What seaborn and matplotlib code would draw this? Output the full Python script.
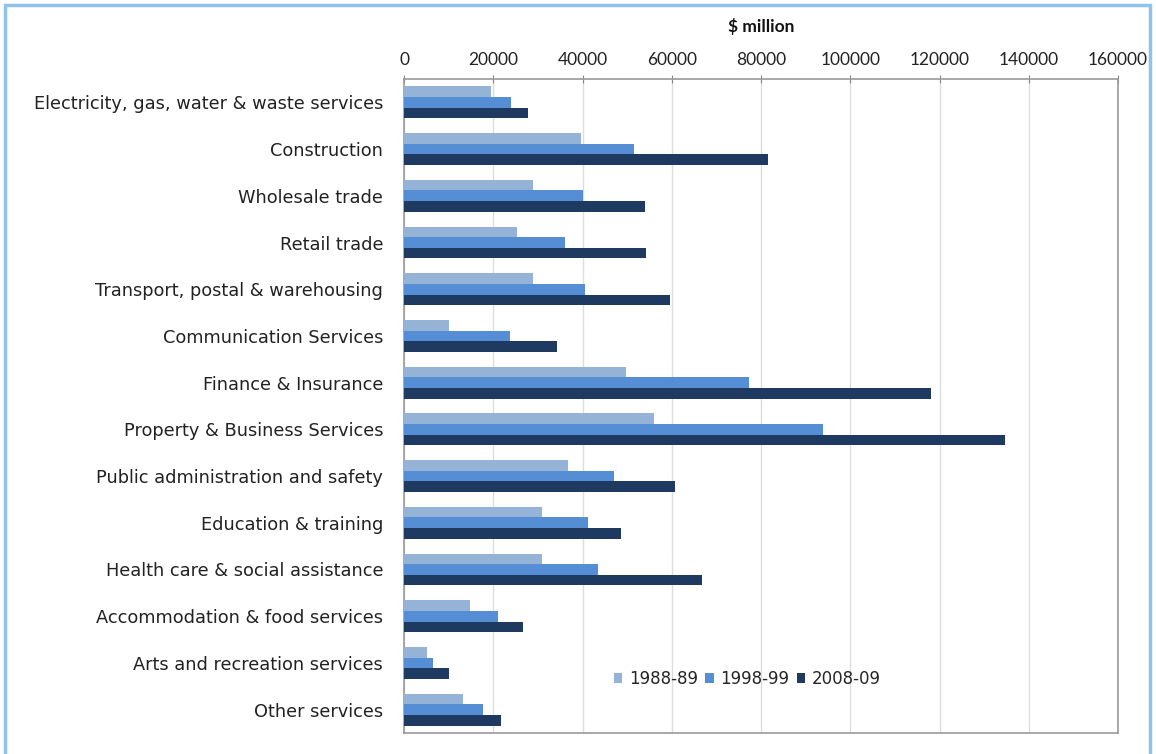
import numpy as np
import pandas as pd
import matplotlib
matplotlib.use("Agg")
import matplotlib.pyplot as plt
import seaborn as sns
from matplotlib.patches import Rectangle

industries = [
    "Electricity, gas, water & waste services",
    "Construction",
    "Wholesale trade",
    "Retail trade",
    "Transport, postal & warehousing",
    "Communication Services",
    "Finance & Insurance",
    "Property & Business Services",
    "Public administration and safety",
    "Education & training",
    "Health care & social assistance",
    "Accommodation & food services",
    "Arts and recreation services",
    "Other services",
]
periods = ["1988-89", "1998-99", "2008-09"]
values_1988 = [19400, 39700, 29000, 25400, 28900, 10100, 49800, 56000, 36800, 30900, 31000, 14800, 5100, 13200]
values_1998 = [24000, 51600, 40000, 36000, 40600, 23800, 77400, 93800, 47000, 41200, 43400, 21000, 6600, 17800]
values_2008 = [27800, 81600, 53900, 54200, 59500, 34200, 118100, 134700, 60800, 48700, 66700, 26700, 10000, 21800]
x_ticks = [0, 20000, 40000, 60000, 80000, 100000, 120000, 140000, 160000]

df = pd.DataFrame({
    "industry": industries * 3,
    "period": [periods[0]] * 14 + [periods[1]] * 14 + [periods[2]] * 14,
    "value": values_1988 + values_1998 + values_2008,
})

sns.set_theme(style="white")
plt.rcParams["font.family"] = ["DejaVu Sans"]

palette = {"1988-89": "#95B3D7", "1998-99": "#558ED5", "2008-09": "#1F3A60"}

fig = plt.figure(figsize=(11.56, 7.54), dpi=100)
ax = fig.add_axes([404 / 1156, 1 - 733 / 754, (1118 - 404) / 1156, (733 - 79) / 754])

sns.barplot(data=df, y="industry", x="value", hue="period", order=industries,
            hue_order=periods, palette=palette, orient="h", width=0.68,
            saturation=1, linewidth=0, ax=ax, zorder=3)

ax.set_xlim(0, 160000)
ax.set_ylim(len(industries) - 0.5, -0.5)
ax.set_xticks(x_ticks)
ax.set_xticklabels([str(t) for t in x_ticks], fontsize=12.5, color="#222222",
                   family=["Lato", "DejaVu Sans"])
ax.xaxis.tick_top()
ax.xaxis.set_label_position("top")
ax.set_xlabel("$ million", fontsize=12.5, fontweight="bold", labelpad=14, color="#111111",
              family=["Lato", "DejaVu Sans"])
ax.set_ylabel("")
ax.tick_params(axis="x", which="major", direction="inout", length=6, width=0.8,
               color="#888888", pad=5)

# category labels, with small boundary ticks on the left axis
ax.set_yticks(range(len(industries)))
ax.set_yticklabels(industries, fontsize=12.8, color="#222222")
ax.tick_params(axis="y", which="major", length=0, pad=15)
ax.set_yticks(np.arange(0.5, len(industries) - 0.5, 1), minor=True)
ax.tick_params(axis="y", which="minor", length=5, width=0.8, color="#888888", direction="out")

ax.grid(axis="x", color="#DDDDDD", linewidth=1, zorder=0)
for side in ["top", "bottom", "left", "right"]:
    ax.spines[side].set_visible(True)
    ax.spines[side].set_color("#999999")
    ax.spines[side].set_linewidth(1.2)

leg = ax.legend(loc="center", bbox_to_anchor=(0.481, 0.083), ncol=3, frameon=False,
                fontsize=12, handlelength=0.5, handleheight=0.5, handletextpad=0.4,
                columnspacing=0.45)

# outer light-blue frame
fig.patches.append(Rectangle((5 / 1156, -0.05), (1150 - 5) / 1156, 1 - 5 / 754 + 0.05,
                             transform=fig.transFigure, fill=False,
                             edgecolor="#8EC3EC", linewidth=2.5))

fig.savefig("out.png", dpi=100)
